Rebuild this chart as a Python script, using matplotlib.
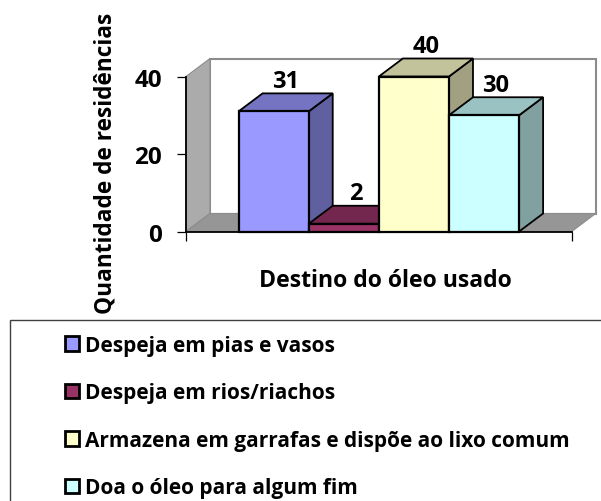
import matplotlib
matplotlib.use("Agg")
import matplotlib.pyplot as plt
from matplotlib.patches import Polygon, Rectangle
from matplotlib.colors import to_rgb

categories = ["Despeja em pias e vasos", "Despeja em rios/riachos",
              "Armazena em garrafas e dispõe ao lixo comum", "Doa o óleo para algum fim"]
values = [31, 2, 40, 30]
colors = ["#9999FF", "#993366", "#FFFFCC", "#CCFFFF"]
yticks = [0, 20, 40]
xlabel = "Destino do óleo usado"
ylabel = "Quantidade de residências"

W, H = 601, 502
plt.rcParams["font.family"] = ["Open Sans", "DejaVu Sans"]
plt.rcParams["font.weight"] = "bold"
fig = plt.figure(figsize=(W / 100, H / 100), dpi=100)
L, R, T, B = 186, 571.7, 77.5, 232.5
ax = fig.add_axes([L / W, 1 - B / H, (R - L) / W, (B - T) / H])
ax.set_xlim(-1.25, 4.25)
ax.set_ylim(0, 40)
ax.patch.set_visible(False)
for s in ("top", "right"):
    ax.spines[s].set_visible(False)
for s in ("left", "bottom"):
    ax.spines[s].set_linewidth(1.3)
    ax.spines[s].set_zorder(30)

xl, xr = ax.get_xlim()
dx = 24 / ((R - L) / (xr - xl))
dy = 18 / ((B - T) / 40)

def poly(pts, fc, ec="none", lw=0.0, z=1):
    ax.add_patch(Polygon(pts, closed=True, facecolor=fc, edgecolor=ec, linewidth=lw,
                         zorder=z, clip_on=False, joinstyle="miter"))

# chart walls and floor
poly([(xl + dx, dy), (xr + dx, dy), (xr + dx, 40 + dy), (xl + dx, 40 + dy)], "white", "#8C8C8C", 1.5, 1)
poly([(xl, 0), (xl, 40), (xl + dx, 40 + dy), (xl + dx, dy)], "#ABABAB", "#8C8C8C", 0.8, 2)
poly([(xl, 0), (xr, 0), (xr + dx, dy), (xl + dx, dy)], "#969696", "#8C8C8C", 0.8, 2)

def shade(c, f):
    return tuple(v * f for v in to_rgb(c))

for i, (v, c) in enumerate(zip(values, colors)):
    z = 5 + i * 3
    a, b = i - 0.5, i + 0.5
    poly([(b, 0), (b + dx, dy), (b + dx, v + dy), (b, v)], shade(c, 0.63), "black", 1.3, z)
    poly([(a, v), (b, v), (b + dx, v + dy), (a + dx, v + dy)], shade(c, 0.76), "black", 1.3, z)
    ax.bar(i, v, width=1, color=c, edgecolor="black", linewidth=1.6, zorder=z + 1, clip_on=False)
    ax.annotate(str(v), (i + dx / 2, v + dy), xytext=(0, 9), textcoords="offset points",
                ha="center", va="center", fontsize=17, fontweight="bold", zorder=40,
                annotation_clip=False)

ax.set_yticks(yticks)
ax.set_xticks([xl, xr])
ax.set_xticklabels([])
ax.tick_params(axis="both", length=6.2, width=0.9, direction="out", color="black")
ax.tick_params(axis="y", labelsize=17.5, pad=11)

ax.set_xlabel(xlabel, fontsize=16.6, fontweight="bold", va="center")
ax.xaxis.set_label_coords((385.5 - L) / (R - L), (B - 281) / (B - T))
ax.set_ylabel(ylabel, fontsize=16.3, fontweight="bold", va="center")
ax.yaxis.set_label_coords((106 - L) / (R - L), (B - 163.5) / (B - T))

# legend panel: its box runs off the right and bottom of the figure
fig.add_artist(Rectangle((10.5 / W, -0.1), 1.1, 1 - 320.7 / H + 0.1, transform=fig.transFigure,
                         facecolor="none", edgecolor="#404040", linewidth=1.0))
handles = [Rectangle((0, 0), 1, 1, facecolor=c, edgecolor="black", linewidth=2.0) for c in colors]
fs = 15
leg = fig.legend(handles, categories, loc="upper left", bbox_to_anchor=(64.5 / W, 1 - 336 / H),
                 bbox_transform=fig.transFigure, frameon=False, fontsize=fs, borderpad=0,
                 borderaxespad=0, handlelength=0.7, handleheight=0.7, handletextpad=0.27,
                 labelspacing=1.27)
fig.savefig("out.png", dpi=100)
